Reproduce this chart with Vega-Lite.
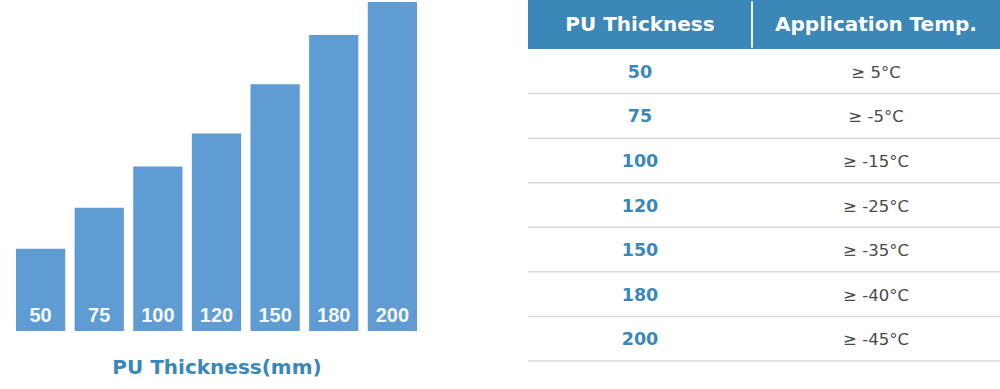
{
  "$schema": "https://vega.github.io/schema/vega-lite/v6.json",
  "width": 1000,
  "height": 389,
  "autosize": {"type": "fit", "contains": "padding"},
  "padding": 0,
  "background": "white",
  "config": {"view": {"stroke": null}, "font": "DejaVu Sans"},
  "resolve": {"scale": {"x": "independent", "y": "independent"}, "axis": {"x": "independent", "y": "independent"}},
  "layer": [
    {
      "data": {"values": [
        {"thickness": "50", "mm": 50},
        {"thickness": "75", "mm": 75},
        {"thickness": "100", "mm": 100},
        {"thickness": "120", "mm": 120},
        {"thickness": "150", "mm": 150},
        {"thickness": "180", "mm": 180},
        {"thickness": "200", "mm": 200}
      ]},
      "encoding": {
        "x": {
          "field": "thickness", "type": "ordinal", "sort": null,
          "scale": {"type": "band", "range": [16, 417], "paddingInner": 0.16, "paddingOuter": 0},
          "axis": {"orient": "bottom", "domain": false, "ticks": false, "labels": false, "grid": false,
                   "title": "PU Thickness(mm)", "titleFont": "DejaVu Sans", "titleFontSize": 20, "titleFontWeight": "bold",
                   "titleColor": "#3a87b9", "offset": -32, "titlePadding": 0}
        }
      },
      "layer": [
        {
          "mark": {"type": "bar", "color": "#5e9cd3"},
          "encoding": {
            "y": {"field": "mm", "type": "quantitative", "scale": {"domain": [0, 200], "range": [331, 2]}, "axis": null}
          }
        },
        {
          "mark": {"type": "text", "color": "#f4f8fc", "fontSize": 20, "fontWeight": "bold", "baseline": "alphabetic", "dy": -9, "font": "Liberation Sans"},
          "encoding": {
            "y": {"datum": 0, "type": "quantitative", "axis": null},
            "text": {"field": "thickness"}
          }
        }
      ]
    },
    {
      "data": {"values": [{"col": "PU Thickness"}, {"col": "Application Temp."}]},
      "encoding": {
        "x": {"field": "col", "type": "nominal", "sort": null,
              "scale": {"type": "band", "domain": ["PU Thickness", "Application Temp."], "range": [528, 1000], "paddingInner": 0, "paddingOuter": 0},
              "axis": null}
      },
      "layer": [
        {
          "mark": {"type": "rect", "color": "#3a87b8"},
          "encoding": {
            "y": {"datum": 0, "type": "quantitative", "scale": {"domain": [0, 1], "range": [0, 49]}, "axis": null},
            "y2": {"datum": 1}
          }
        },
        {
          "mark": {"type": "text", "color": "white", "fontSize": 20, "fontWeight": "bold", "dx": -6, "baseline": "middle"},
          "encoding": {
            "y": {"datum": 0.5, "type": "quantitative", "axis": null},
            "text": {"field": "col"}
          }
        },
        {
          "mark": {"type": "rule", "color": "white", "strokeWidth": 1.5, "xOffset": -12},
          "encoding": {
            "x": {"datum": "Application Temp.", "type": "nominal", "bandPosition": 0},
            "y": {"datum": 0.03, "type": "quantitative", "axis": null},
            "y2": {"datum": 0.97}
          }
        }
      ]
    },
    {
      "data": {"values": [
        {"t": "50", "temp": "≥ 5°C"},
        {"t": "75", "temp": "≥ -5°C"},
        {"t": "100", "temp": "≥ -15°C"},
        {"t": "120", "temp": "≥ -25°C"},
        {"t": "150", "temp": "≥ -35°C"},
        {"t": "180", "temp": "≥ -40°C"},
        {"t": "200", "temp": "≥ -45°C"}
      ]},
      "encoding": {
        "y": {"field": "t", "type": "ordinal", "sort": null,
              "scale": {"type": "band", "range": [49, 361], "paddingInner": 0, "paddingOuter": 0},
              "axis": null}
      },
      "layer": [
        {
          "mark": {"type": "rule", "color": "#d9d9d9", "strokeWidth": 1.5},
          "encoding": {
            "x": {"datum": "PU Thickness", "type": "nominal", "bandPosition": 0,
                  "scale": {"type": "band", "domain": ["PU Thickness", "Application Temp."], "range": [528, 1000], "paddingInner": 0, "paddingOuter": 0},
                  "axis": null},
            "x2": {"datum": "Application Temp.", "bandPosition": 1},
            "y": {"field": "t", "type": "ordinal", "sort": null, "bandPosition": 1}
          }
        },
        {
          "mark": {"type": "text", "color": "#3a87b9", "fontSize": 17.5, "fontWeight": "bold", "dx": -6, "dy": 1.5, "baseline": "middle"},
          "encoding": {
            "x": {"datum": "PU Thickness", "type": "nominal", "axis": null},
            "text": {"field": "t"}
          }
        },
        {
          "mark": {"type": "text", "color": "#4a4a4a", "fontSize": 16.5, "dx": -6, "dy": 1.5, "baseline": "middle"},
          "encoding": {
            "x": {"datum": "Application Temp.", "type": "nominal", "axis": null},
            "text": {"field": "temp"}
          }
        }
      ]
    }
  ]
}
